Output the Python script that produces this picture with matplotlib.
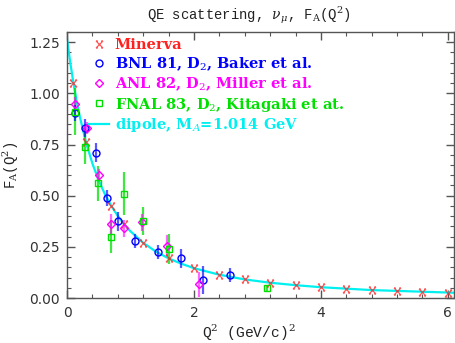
import matplotlib
matplotlib.use("Agg")
import matplotlib.pyplot as plt
from matplotlib.path import Path
from matplotlib.ticker import MultipleLocator, FormatStrFormatter

# Minerva (expected points on the dipole)
MIN_Q2 = [0.1, 0.3, 0.7, 0.9, 1.2, 1.6, 2.0, 2.4, 2.8, 3.2, 3.6, 4.0, 4.4, 4.8, 5.2, 5.6, 6.0]
MIN_FA = [1.05, 0.76, 0.45, 0.36, 0.27, 0.195, 0.147, 0.114, 0.092, 0.075, 0.062, 0.052, 0.045,
          0.039, 0.034, 0.030, 0.027]

# BNL 81, D2, Baker et al.
BNL_Q2 = [0.13, 0.28, 0.45, 0.625, 0.81, 1.07, 1.43, 1.79, 2.15, 2.56]
BNL_FA = [0.905, 0.83, 0.71, 0.49, 0.374, 0.28, 0.224, 0.194, 0.088, 0.113]
BNL_ER = [0.04, 0.045, 0.045, 0.04, 0.045, 0.035, 0.035, 0.045, 0.07, 0.035]

# ANL 82, D2, Miller et al.
ANL_Q2 = [0.13, 0.31, 0.50, 0.69, 0.89, 1.18, 1.57, 2.08]
ANL_FA = [0.95, 0.83, 0.60, 0.36, 0.34, 0.37, 0.256, 0.067]
ANL_ER = [0.03, 0.03, 0.03, 0.05, 0.04, 0.04, 0.05, 0.06]

# FNAL 83, D2, Kitagaki et al.
FNAL_Q2 = [0.12, 0.29, 0.49, 0.69, 0.89, 1.19, 1.60, 3.15]
FNAL_FA = [0.91, 0.74, 0.56, 0.30, 0.51, 0.377, 0.239, 0.047]
FNAL_ER = [0.115, 0.085, 0.085, 0.08, 0.105, 0.07, 0.075, 0.015]

# dipole curve, M_A = 1.014 GeV
DIP_Q2 = [0.0, 0.05, 0.1, 0.15, 0.2, 0.3, 0.4, 0.5, 0.6, 0.7, 0.8, 0.9, 1.0, 1.2, 1.4, 1.6,
          1.8, 2.0, 2.4, 2.8, 3.2, 3.6, 4.0, 4.4, 4.8, 5.2, 5.6, 6.0, 6.1]
DIP_FA = [1.267, 1.152, 1.052, 0.965, 0.888, 0.759, 0.657, 0.574, 0.505, 0.449, 0.401, 0.360,
          0.326, 0.270, 0.227, 0.194, 0.168, 0.146, 0.114, 0.091, 0.075, 0.063, 0.053, 0.046,
          0.039, 0.035, 0.031, 0.027, 0.026]

RED     = "#ff2020"
BLUE    = "#0000ff"
MAGENTA = "#ff00ff"
GREEN   = "#00e000"
CYAN    = "#00f0f0"
AXIS    = "#555555"

plt.rcParams["mathtext.fontset"] = "dejavuserif"

# x with little caps at the ends
cap_x = Path(
    [(-1, -1), (1, 1), (-1, 1), (1, -1),
     (-1, 1), (-0.45, 1), (0.45, 1), (1, 1),
     (-1, -1), (-0.45, -1), (0.45, -1), (1, -1)],
    [Path.MOVETO, Path.LINETO] * 6)

fig = plt.figure(figsize=(4.56, 3.43), dpi=100)
ax = fig.add_axes([0.147, 0.131, 0.849, 0.776])

ax.plot(DIP_Q2, DIP_FA, color=CYAN, lw=1.6, zorder=2)

ax.errorbar(FNAL_Q2, FNAL_FA, yerr=FNAL_ER, fmt="none", ecolor=GREEN, elinewidth=1.6,
            alpha=0.75, zorder=3)
ax.errorbar(ANL_Q2, ANL_FA, yerr=ANL_ER, fmt="none", ecolor=MAGENTA, elinewidth=1.6,
            alpha=0.6, zorder=3)
ax.errorbar(BNL_Q2, BNL_FA, yerr=BNL_ER, fmt="none", ecolor=BLUE, elinewidth=1.6,
            alpha=0.65, zorder=3)

ax.plot(MIN_Q2, MIN_FA, ls="none", marker=cap_x, ms=5, mec=RED, mew=0.9, alpha=0.75,
        zorder=4, label="Minerva")
ax.plot(BNL_Q2, BNL_FA, ls="none", marker="o", ms=5, mfc="none", mec=BLUE, mew=1.0,
        zorder=5, label="BNL 81, D$_2$, Baker et al.")
ax.plot(ANL_Q2, ANL_FA, ls="none", marker="D", ms=4.5, mfc="none", mec=MAGENTA, mew=1.0,
        zorder=5, label="ANL 82, D$_2$, Miller et al.")
ax.plot(FNAL_Q2, FNAL_FA, ls="none", marker="s", ms=5, mfc="none", mec=GREEN, mew=1.0,
        zorder=5, label="FNAL 83, D$_2$, Kitagaki et at.")
ax.plot([], [], color=CYAN, lw=1.6, label="dipole, M$_A$=1.014 GeV")

leg = ax.legend(loc="upper left", bbox_to_anchor=(0.04, 1.0), frameon=False,
                handlelength=1.4, handletextpad=0.35, labelspacing=0.18,
                borderaxespad=0.05,
                prop={"family": "DejaVu Serif", "size": 10.5, "weight": "bold"})
for txt, col in zip(leg.get_texts(), [RED, BLUE, MAGENTA, GREEN, CYAN]):
    txt.set_color(col)

ax.set_xlim(0, 6.1)
ax.set_ylim(0, 1.3)
ax.xaxis.set_major_locator(MultipleLocator(2))
ax.xaxis.set_minor_locator(MultipleLocator(0.4))
ax.yaxis.set_major_locator(MultipleLocator(0.25))
ax.yaxis.set_minor_locator(MultipleLocator(0.05))
ax.xaxis.set_major_formatter(FormatStrFormatter("%d"))
ax.yaxis.set_major_formatter(FormatStrFormatter("%.2f"))

ax.tick_params(which="both", direction="in", top=True, right=True, colors=AXIS,
               labelcolor="#333333", labelsize=10)
ax.tick_params(which="major", length=6, width=1)
ax.tick_params(which="minor", length=3, width=0.8)
ax.tick_params(axis="y", pad=5)
ax.tick_params(axis="x", pad=6)
for sp in ax.spines.values():
    sp.set_edgecolor(AXIS)
    sp.set_linewidth(1)

ax.set_title(r"QE scattering, $\nu_\mu$, F$_{\rm A}$(Q$^2$)", family="Liberation Mono",
             fontsize=10, color="#222222", pad=9, x=0.47)
ax.set_xlabel(r"Q$^2$ (GeV/c)$^2$", family="Liberation Mono", fontsize=10.5, color="#222222",
              labelpad=2, x=0.47)
ax.set_ylabel(r"F$_{\rm A}$(Q$^2$)", family="Liberation Mono", fontsize=10, color="#222222",
              labelpad=6)

fig.savefig("out.png", dpi=100)
